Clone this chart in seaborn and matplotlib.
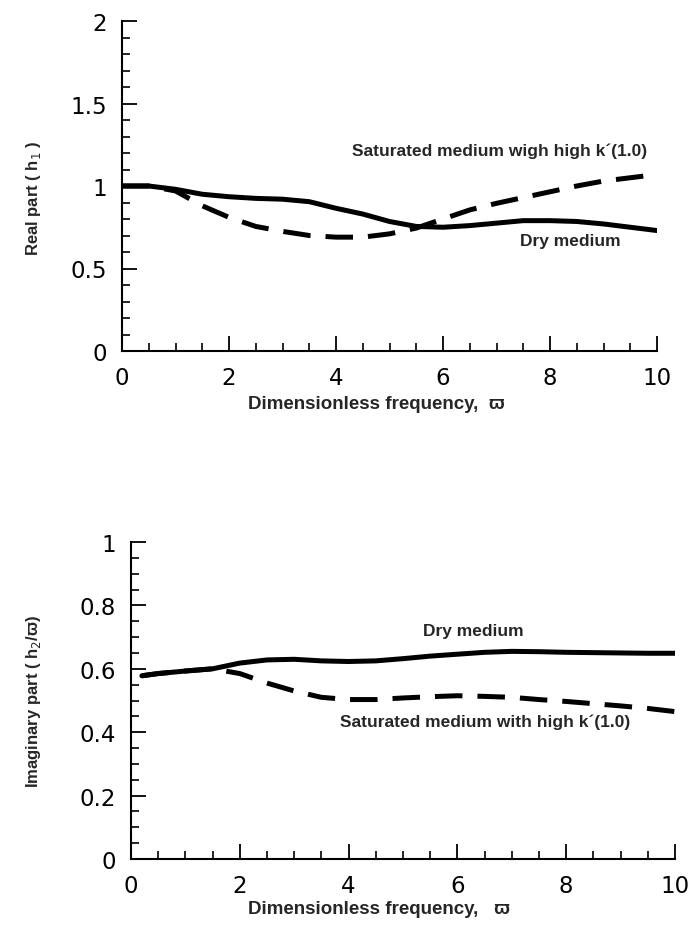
import numpy as np
import pandas as pd
import matplotlib
matplotlib.use("Agg")
import matplotlib.pyplot as plt
import seaborn as sns
from matplotlib.ticker import MultipleLocator, FixedLocator, FixedFormatter

sns.set_theme(style="ticks")
plt.rcParams["font.family"] = ["Liberation Sans", "DejaVu Sans"]

# ---------------- data ----------------
freq_top = [0, 0.5, 1, 1.5, 2, 2.5, 3, 3.5, 4, 4.5, 5, 5.5, 6, 6.5, 7, 7.5, 8, 8.5, 9, 9.5, 10]
real_dry = [1.0, 1.0, 0.98, 0.95, 0.935, 0.925, 0.92, 0.905, 0.865, 0.83, 0.785, 0.755,
            0.75, 0.76, 0.775, 0.79, 0.79, 0.785, 0.77, 0.75, 0.73]
real_sat = [1.0, 1.0, 0.97, 0.88, 0.81, 0.755, 0.725, 0.70, 0.69, 0.69, 0.71, 0.745,
            0.80, 0.855, 0.895, 0.93, 0.965, 1.0, 1.03, 1.05, 1.07]

freq_bot = [0.2, 0.5, 1, 1.5, 2, 2.5, 3, 3.5, 4, 4.5, 5, 5.5, 6, 6.5, 7, 7.5, 8, 8.5, 9, 9.5, 10]
imag_dry = [0.578, 0.585, 0.593, 0.60, 0.618, 0.628, 0.63, 0.625, 0.623, 0.625, 0.632, 0.64,
            0.646, 0.652, 0.655, 0.654, 0.652, 0.651, 0.65, 0.649, 0.649]
imag_sat = [0.578, 0.585, 0.593, 0.60, 0.585, 0.555, 0.53, 0.51, 0.503, 0.503, 0.508, 0.512,
            0.515, 0.513, 0.51, 0.503, 0.497, 0.49, 0.483, 0.475, 0.465]

x_ticks = [0, 2, 4, 6, 8, 10]
x_ticklabels = ["0", "2", "4", "6", "8", "10"]
y_top_ticks = [0, 0.5, 1, 1.5, 2]
y_top_ticklabels = ["0", "0.5", "1", "1.5", "2"]
y_bot_ticks = [0, 0.2, 0.4, 0.6, 0.8, 1]
y_bot_ticklabels = ["0", "0.2", "0.4", "0.6", "0.8", "1"]

top_df = pd.DataFrame({"freq": freq_top, "dry": real_dry, "sat": real_sat})
bot_df = pd.DataFrame({"freq": freq_bot, "dry": imag_dry, "sat": imag_sat})

# ---------------- figure ----------------
W, H = 700, 929
fig = plt.figure(figsize=(W / 100, H / 100), dpi=100)
fig.patch.set_facecolor("white")
ax1 = fig.add_axes([122 / W, 1 - 352 / H, (657 - 122) / W, (352 - 22) / H])
ax2 = fig.add_axes([131 / W, 1 - 860 / H, (675 - 131) / W, (860 - 543) / H])

LW = 3.6
DASH = (0, (5.5, 3.0))

sns.lineplot(data=top_df, x="freq", y="dry", ax=ax1, color="black", lw=LW, linestyle="-")
sns.lineplot(data=top_df, x="freq", y="sat", ax=ax1, color="black", lw=LW, linestyle=DASH)
sns.lineplot(data=bot_df, x="freq", y="dry", ax=ax2, color="black", lw=LW, linestyle="-")
sns.lineplot(data=bot_df, x="freq", y="sat", ax=ax2, color="black", lw=LW, linestyle=DASH)

TICKFONT = ["DejaVu Sans"]

def style(ax, yticks, ylabels, yminor, ylim):
    ax.set_xlim(0, 10)
    ax.set_ylim(*ylim)
    for s in ["top", "right"]:
        ax.spines[s].set_visible(False)
    for s in ["left", "bottom"]:
        ax.spines[s].set_linewidth(1.5)
        ax.spines[s].set_color("black")
    ax.xaxis.set_major_locator(FixedLocator(x_ticks))
    ax.xaxis.set_major_formatter(FixedFormatter(x_ticklabels))
    ax.xaxis.set_minor_locator(MultipleLocator(0.5))
    ax.yaxis.set_major_locator(FixedLocator(yticks))
    ax.yaxis.set_major_formatter(FixedFormatter(ylabels))
    ax.yaxis.set_minor_locator(MultipleLocator(yminor))
    ax.tick_params(which="major", direction="in", length=11, width=1.3, colors="black",
                   labelsize=16.5, pad=11)
    ax.tick_params(which="minor", direction="in", length=5.5, width=1.2, colors="black")
    for lab in ax.get_xticklabels() + ax.get_yticklabels():
        lab.set_family(TICKFONT)
    ax.grid(False)
    ax.set_facecolor("white")

style(ax1, y_top_ticks, y_top_ticklabels, 0.1, (0, 2))
style(ax2, y_bot_ticks, y_bot_ticklabels, 0.05, (0, 1))

LABFS = 13.5
ax1.set_xlabel("Dimensionless frequency,  ϖ", fontsize=LABFS, fontweight="bold")
ax1.xaxis.set_label_coords(0.475, -0.133)
ax1.set_ylabel("Real part ( h$_1$ )", fontsize=12, fontweight="bold")
ax1.yaxis.set_label_coords(-0.148, 0.467)
ax2.set_xlabel("Dimensionless frequency,   ϖ", fontsize=LABFS, fontweight="bold")
ax2.xaxis.set_label_coords(0.455, -0.13)
ax2.set_ylabel("Imaginary part ( h$_2$/ϖ)", fontsize=12, fontweight="bold")
ax2.yaxis.set_label_coords(-0.162, 0.5)

ann = 12.5
ax1.text(4.29, 1.214, "Saturated medium wigh high k´(1.0)", fontsize=ann, fontweight="bold",
         va="center", ha="left")
ax1.text(7.43, 0.667, "Dry medium", fontsize=ann, fontweight="bold", va="center", ha="left")
ax2.text(5.37, 0.72, "Dry medium", fontsize=ann, fontweight="bold", va="center", ha="left")
ax2.text(3.84, 0.435, "Saturated medium with high k´(1.0)", fontsize=ann, fontweight="bold",
         va="center", ha="left")

fig.savefig("out.png", dpi=100, facecolor="white")
